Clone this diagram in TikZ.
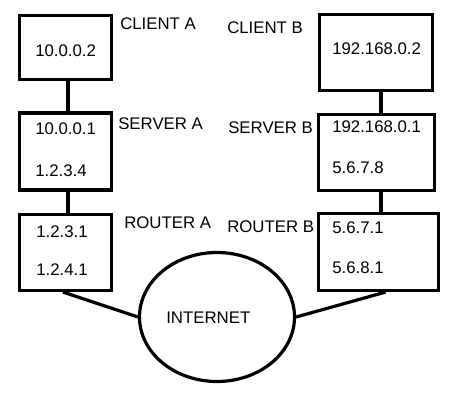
\documentclass[tikz,border=0pt]{standalone}
\usepackage{fontspec}
\setmainfont{Liberation Sans}
\usetikzlibrary{shapes.geometric,calc}
\begin{document}
\begin{tikzpicture}[x=0.75pt,y=-0.75pt,
  box/.style={draw,line width=2.4pt,rectangle,inner sep=0pt},
  lbl/.style={anchor=west,inner sep=0pt,font=\fontsize{12.6}{14}\selectfont},
  wire/.style={line width=2.4pt}]
\useasboundingbox (0,0) rectangle (460,395);
% boxes
\node[box,minimum width=69pt,minimum height=48pt] (cA) at (65.5,47.5) {};
\node[box,minimum width=69pt,minimum height=57.75pt] (sA) at (65.5,151.5) {};
\node[box,minimum width=69pt,minimum height=57pt] (rA) at (65.5,252.5) {};
\node[box,minimum width=84.75pt,minimum height=57pt] (cB) at (376,52.5) {};
\node[box,minimum width=87pt,minimum height=57pt] (sB) at (376.5,152.5) {};
\node[box,minimum width=90pt,minimum height=57.75pt] (rB) at (378.5,252) {};
\node[draw,ellipse,line width=2.4pt,inner sep=0pt,minimum width=116.25pt,minimum height=96.75pt] (inet) at (217,317) {};
% texts
\node[lbl] (tcA) at (35,50.5) {10.0.0.2};
\node[lbl] (tsA1) at (35,129) {10.0.0.1};
\node[lbl] (tsA2) at (35,171) {1.2.3.4};
\node[lbl] (trA1) at (36,232) {1.2.3.1};
\node[lbl] (trA2) at (36,270) {1.2.4.1};
\node[lbl] (tcB) at (332,48.5) {192.168.0.2};
\node[lbl] (tsB1) at (332,127) {192.168.0.1};
\node[lbl] (tsB2) at (332,168) {5.6.7.8};
\node[lbl] (trB1) at (332,228) {5.6.7.1};
\node[lbl] (trB2) at (332,268) {5.6.8.1};
\node[lbl] (lcA) at (120,24) {CLIENT A};
\node[lbl] (lsA) at (118,124) {SERVER A};
\node[lbl] (lrA) at (124,223) {ROUTER A};
\node[lbl] (lcB) at (227,28) {CLIENT B};
\node[lbl] (lsB) at (228,128) {SERVER B};
\node[lbl] (lrB) at (227,227) {ROUTER B};
\node[lbl] (tin) at (166,318) {INTERNET};
% connectors
\draw[wire] ($(cA.south)+(2.5,0)$) -- ($(sA.north)+(2.5,0)$);
\draw[wire] ($(sA.south)+(2.5,0)$) -- ($(rA.north)+(2.5,0)$);
\draw[wire] ($(cB.south)+(5,0)$) -- ($(sB.north)+(4.5,0)$);
\draw[wire] ($(sB.south)+(4.5,0)$) -- ($(rB.north)+(2.5,0)$);
\draw[wire] ($(rA.south)+(-2.5,0)$) -- (inet.west);
\draw[wire] ($(rB.south)+(7,0)$) -- (inet.east);
\end{tikzpicture}
\end{document}
